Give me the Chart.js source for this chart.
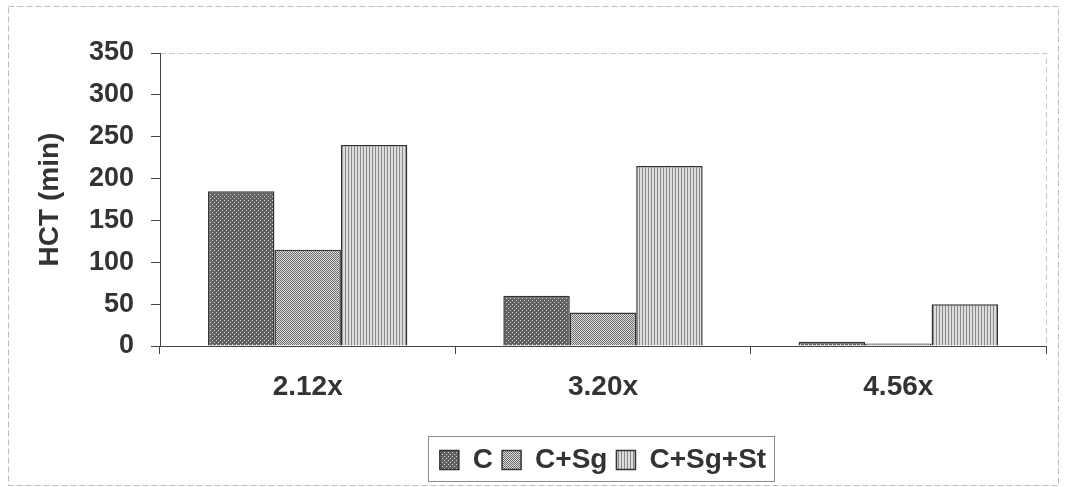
<!DOCTYPE html>
<html>
<head>
<meta charset="utf-8">
<script src="https://cdn.jsdelivr.net/npm/chart.js@4/dist/chart.umd.min.js"></script>
<style>
  html, body { margin: 0; padding: 0; background: #fff; }
  #wrap { width: 1065px; height: 487px; position: relative; }
</style>
</head>
<body>
<div id="wrap"><canvas id="hct"></canvas></div>
<script>
// data
const categories = ['2.12x', '3.20x', '4.56x'];
const seriesNames = ['C', 'C+Sg', 'C+Sg+St'];
const valuesC = [185, 60, 5];
const valuesCSg = [115, 40, 3];
const valuesCSgSt = [240, 215, 50];
const yMax = 350;
const yStep = 50;

// small tiled fills to imitate the print hatching
function makePattern(size, draw) {
  const c = document.createElement('canvas');
  c.width = size; c.height = size;
  const g = c.getContext('2d');
  draw(g);
  return document.getElementById('hct').getContext('2d').createPattern(c, 'repeat');
}

const dotsDark = makePattern(4, g => {
  g.fillStyle = '#616161'; g.fillRect(0, 0, 4, 4);
  g.fillStyle = '#d6d6d6';
  g.fillRect(0, 0, 1, 1);
  g.fillRect(2, 2, 1, 1);
});
const checker = makePattern(2, g => {
  g.fillStyle = '#e0e0e0'; g.fillRect(0, 0, 2, 2);
  g.fillStyle = '#6a6a6a';
  g.fillRect(0, 0, 1, 1);
  g.fillRect(1, 1, 1, 1);
});
const stripes = makePattern(3, g => {
  g.fillStyle = '#dcdcdc'; g.fillRect(0, 0, 3, 3);
  g.fillStyle = '#8a8a8a'; g.fillRect(0, 0, 1, 3);
});

const fam = 'Arial, "Liberation Sans"';
const bigFont = { family: fam, size: 28, weight: 'bold' };
const tickFont = { family: fam, size: 27, weight: 'bold' };

// frames: outer chart border, dashed plot border, box around legend
const framePlugin = {
  id: 'frames',
  beforeDraw(chart) {
    const ctx = chart.ctx;
    const a = chart.chartArea;
    ctx.save();
    ctx.fillStyle = '#fff';
    ctx.fillRect(0, 0, chart.width, chart.height);
    ctx.strokeStyle = '#bdbdbd';
    ctx.lineWidth = 1;
    ctx.setLineDash([6, 3]);
    ctx.strokeRect(8.5, 6.5, chart.width - 15, chart.height - 8);
    ctx.strokeStyle = '#c8c8c8';
    ctx.beginPath();
    ctx.moveTo(a.left, a.top + 0.5);
    ctx.lineTo(a.right + 0.5, a.top + 0.5);
    ctx.lineTo(a.right + 0.5, a.bottom + 6);
    ctx.stroke();
    ctx.restore();
  },
  afterDraw(chart) {
    const boxes = chart.legend.legendHitBoxes;
    if (!boxes || !boxes.length) return;
    const left = Math.min(...boxes.map(b => b.left)) - 12;
    const right = Math.max(...boxes.map(b => b.left + b.width)) + 8;
    const ctx = chart.ctx;
    ctx.save();
    ctx.strokeStyle = '#8c8c8c';
    ctx.lineWidth = 1;
    ctx.strokeRect(Math.round(left) + 0.5, 436.5, Math.round(right - left), 45);
    ctx.restore();
  }
};

new Chart(document.getElementById('hct'), {
  type: 'bar',
  data: {
    labels: categories,
    datasets: [
      { label: seriesNames[0], data: valuesC, backgroundColor: dotsDark },
      { label: seriesNames[1], data: valuesCSg, backgroundColor: checker },
      { label: seriesNames[2], data: valuesCSgSt, backgroundColor: stripes }
    ].map(d => Object.assign(d, {
      borderColor: '#333',
      borderWidth: 1.5,
      borderSkipped: 'bottom',
      categoryPercentage: 0.675,
      barPercentage: 1
    }))
  },
  options: {
    responsive: true,
    maintainAspectRatio: false,
    animation: false,
    layout: { padding: { left: 10, right: 19, top: 53, bottom: 3 } },
    plugins: {
      tooltip: { enabled: false },
      legend: {
        display: true,
        position: 'bottom',
        fullSize: false,
        labels: {
          color: '#333',
          font: bigFont,
          boxWidth: 19,
          boxHeight: 19,
          padding: 9
        }
      }
    },
    scales: {
      x: {
        grid: { drawOnChartArea: false, drawTicks: true, tickLength: 8, color: '#444' },
        border: { color: '#444', width: 1 },
        ticks: { color: '#333', padding: 16, font: bigFont },
        afterFit(scale) { scale.height = 91; }
      },
      y: {
        min: 0,
        max: yMax,
        grid: { drawOnChartArea: false, drawTicks: true, tickLength: 9, color: '#444' },
        border: { color: '#444', width: 1 },
        ticks: { stepSize: yStep, color: '#333', padding: 17, font: tickFont },
        title: {
          display: true,
          text: 'HCT (min)',
          color: '#333',
          padding: { top: 23, bottom: 0 },
          font: bigFont
        },
        afterFit(scale) { scale.width = 150; }
      }
    }
  },
  plugins: [framePlugin]
});
</script>
</body>
</html>
